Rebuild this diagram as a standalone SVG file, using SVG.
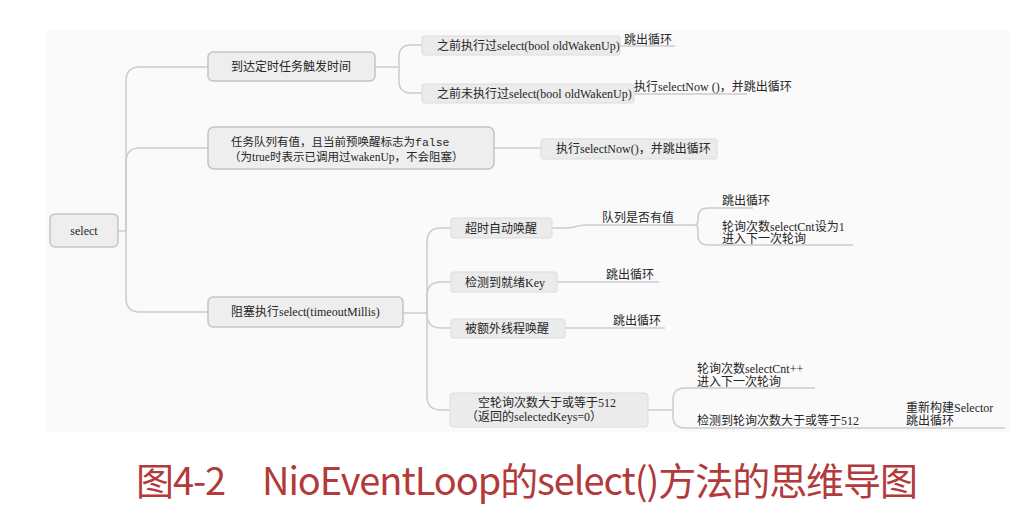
<svg xmlns="http://www.w3.org/2000/svg" width="1028" height="518" viewBox="0 0 1028 518">
<style>
text{font-family:"Liberation Serif","Noto Sans CJK SC",serif;font-size:12px;fill:#262626}
.mono{font-family:"Liberation Mono","Noto Sans CJK SC",monospace}
.node rect.main{fill:#eeeeee;stroke:#c4c4c4;stroke-width:1.5}
.node rect.sub{fill:#ebebeb;stroke:#dcdcdc;stroke-width:1}
#connectors path{fill:none;stroke:#cccccc;stroke-width:1.5}
.title{font-family:"Noto Sans CJK SC","Noto Sans",sans-serif;font-size:38px;fill:#b23a3a}
</style>
<rect x="0" y="0" width="1028" height="518" fill="#ffffff"/>
<rect x="47" y="30" width="963" height="402" fill="#fafafa"/>
<g id="connectors">
<path d="M118,231 H126"/>
<path d="M126,231 V81 Q126,67 140,67 H208"/>
<path d="M126,231 V162 Q126,148 140,148 H208"/>
<path d="M126,231 V298 Q126,312 140,312 H208"/>
<path d="M375,67 H399"/>
<path d="M399,67 V57 Q399,45 411,45 H422"/>
<path d="M399,67 V81 Q399,93 411,93 H422"/>
<path d="M620,46 H675"/>
<path d="M634,94 H747"/>
<path d="M494,148 H541"/>
<path d="M403,313 H427"/>
<path d="M427,313 V242 Q427,228 441,228 H451"/>
<path d="M427,313 V296 Q427,282 441,282 H451"/>
<path d="M427,313 V314 Q427,328 441,328 H451"/>
<path d="M427,313 V396 Q427,410 441,410 H450"/>
<path d="M552,228 H566 C575,228 577,225 586,225 H695"/>
<path d="M695,225 C698,225 698,222 698,218 Q698,208 708,208 H753"/>
<path d="M695,225 C698,225 698,228 698,232 V235 Q698,245 708,245 H853"/>
<path d="M557,282 H659"/>
<path d="M565,328 H665"/>
<path d="M648,410 H673"/>
<path d="M673,410 V400 Q673,388 685,388 H815"/>
<path d="M673,410 V416 Q673,428 685,428 H1005"/>
</g>
<g id="root" class="node">
<rect class="main" x="50" y="214" width="68" height="33" rx="5"/>
<text x="84" y="235" text-anchor="middle">select</text>
</g>
<g id="n1" class="node">
<rect class="main" x="208" y="52" width="167" height="29" rx="5"/>
<text x="231" y="71">到达定时任务触发时间</text>
</g>
<g id="n1a" class="node">
<rect class="sub" x="422" y="36" width="198" height="19" rx="2"/>
<text x="437" y="50">之前执行过select(bool oldWakenUp)</text>
</g>
<g id="n1a-l" class="node">
<text x="624" y="44">跳出循环</text>
</g>
<g id="n1b" class="node">
<rect class="sub" x="422" y="84" width="212" height="19" rx="2"/>
<text x="437" y="98">之前未执行过select(bool oldWakenUp)</text>
</g>
<g id="n1b-l" class="node">
<text x="634" y="91">执行selectNow ()，并跳出循环</text>
</g>
<g id="n2" class="node">
<rect class="main" x="208" y="127" width="286" height="42" rx="6"/>
<text x="231" y="146" style="font-size:11.5px">任务队列有值，且当前预唤醒标志为<tspan class="mono">false</tspan></text>
<text x="229" y="161" style="font-size:11.5px">（为true时表示已调用过wakenUp，不会阻塞）</text>
</g>
<g id="n2a" class="node">
<rect class="sub" x="541" y="139" width="176" height="20" rx="2"/>
<text x="556" y="153">执行selectNow()，并跳出循环</text>
</g>
<g id="n3" class="node">
<rect class="main" x="208" y="297" width="195" height="30" rx="5"/>
<text x="231" y="316">阻塞执行select(timeoutMillis)</text>
</g>
<g id="n3a" class="node">
<rect class="sub" x="451" y="218" width="101" height="20" rx="2"/>
<text x="465" y="233">超时自动唤醒</text>
</g>
<g id="n3a-q" class="node">
<text x="602" y="222">队列是否有值</text>
</g>
<g id="n3a-q1" class="node">
<text x="722" y="205">跳出循环</text>
</g>
<g id="n3a-q2" class="node">
<text x="722" y="231">轮询次数selectCnt设为1</text>
<text x="722" y="243">进入下一次轮询</text>
</g>
<g id="n3b" class="node">
<rect class="sub" x="451" y="272" width="106" height="20" rx="2"/>
<text x="465" y="287">检测到就绪Key</text>
</g>
<g id="n3b-l" class="node">
<text x="606" y="279">跳出循环</text>
</g>
<g id="n3c" class="node">
<rect class="sub" x="451" y="319" width="114" height="19" rx="2"/>
<text x="465" y="333">被额外线程唤醒</text>
</g>
<g id="n3c-l" class="node">
<text x="613" y="325">跳出循环</text>
</g>
<g id="n3d" class="node">
<rect class="sub" x="450" y="393" width="198" height="34" rx="3"/>
<text x="478" y="407">空轮询次数大于或等于512</text>
<text x="466" y="421">（返回的selectedKeys=0）</text>
</g>
<g id="n3d-1" class="node">
<text x="697" y="373">轮询次数selectCnt++</text>
<text x="697" y="386">进入下一次轮询</text>
</g>
<g id="n3d-2" class="node">
<text x="697" y="425">检测到轮询次数大于或等于512</text>
</g>
<g id="n3d-3" class="node">
<text x="906" y="412">重新构建Selector</text>
<text x="906" y="425">跳出循环</text>
</g>
<text class="title" x="136" y="495" textLength="782" lengthAdjust="spacing">图4-2　NioEventLoop的select()方法的思维导图</text>
</svg>
